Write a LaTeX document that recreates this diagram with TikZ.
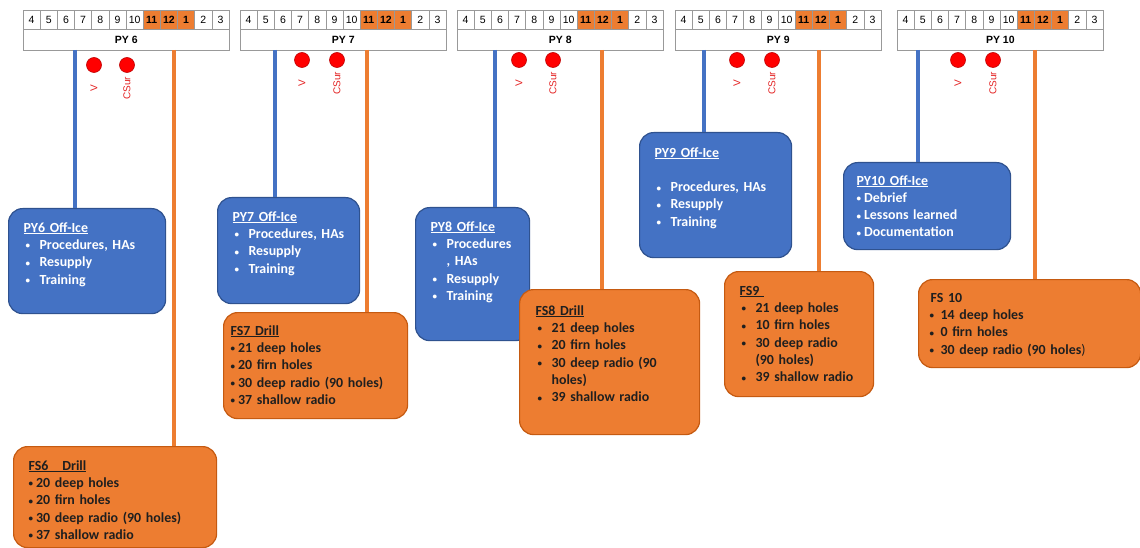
\documentclass[tikz,border=0pt]{standalone}
\usepackage{fontspec}
\setmainfont{Carlito}
\newfontfamily\arialfont{Liberation Sans}
\definecolor{pyblue}{HTML}{4472C4}
\definecolor{pyblueline}{HTML}{2F528F}
\definecolor{pyorange}{HTML}{ED7D31}
\definecolor{pyorangeline}{HTML}{C55A11}
\definecolor{dotred}{HTML}{FF0000}
\definecolor{labred}{HTML}{E32222}
\definecolor{boxtext}{HTML}{1F1F1F}
\newcommand{\sbul}{\raisebox{0.6pt}{\fontsize{9}{9}\selectfont\textbullet}}
\newcommand{\ibul}[2][16pt]{\mbox{\makebox[#1][l]{\hspace{2pt}\sbul}#2}}
\newcommand{\tbul}[1]{\mbox{\sbul\hspace{3pt}#1}}
\newcommand{\ihang}[1]{\mbox{\hspace{16pt}#1}}

\begin{document}
\begin{tikzpicture}[x=1pt,y=-1pt,
  offbox/.style={anchor=north west,rounded corners=14pt,fill=pyblue,draw=pyblueline,line width=1.2pt,text=white,align=left,inner ysep=0pt,font=\fontsize{13.9}{17.3}\selectfont\bfseries},
  fsbox/.style={offbox,fill=pyorange,draw=pyorangeline,text=boxtext},
  cell/.style={draw=gray!80,line width=0.6pt,minimum width=17.17pt,minimum height=19pt,inner sep=0pt,font=\arialfont\fontsize{10.5}{12}\selectfont},
  pyrow/.style={draw=gray!80,line width=0.6pt,anchor=north west,minimum width=206pt,minimum height=21pt,inner sep=0pt,font=\arialfont\fontsize{10.5}{12}\selectfont\bfseries},
  rdot/.style={circle,fill=dotred,draw=red!75!black,line width=0.6pt,minimum size=15pt,inner sep=0pt},
  rlab/.style={rotate=90,anchor=east,inner sep=0pt,text=labred,font=\arialfont\fontsize{10}{12}\selectfont},
  bluelink/.style={pyblue,line width=3.5pt},
  orangelink/.style={pyorange,line width=3.5pt}]
  \useasboundingbox (0,0) rectangle (1140,548);

  \node[offbox,text width=127pt,inner xsep=15pt,text height=23.5pt,text depth=81.5pt] (off6) at (8,208)
    {\underline{PY6 Off-Ice}\\\ibul{Procedures, HAs}\\\ibul{Resupply}\\\ibul{Training}};
  \node[offbox,text width=112pt,inner xsep=15pt,text height=23.5pt,text depth=82.5pt] (off7) at (217,197)
    {\underline{PY7 Off-Ice}\\\ibul{Procedures, HAs}\\\ibul{Resupply}\\\ibul{Training}};
  \node[offbox,text width=84pt,inner xsep=15pt,text height=23.5pt,text depth=109.5pt] (off8) at (415,207)
    {\underline{PY8 Off-Ice}\\\ibul{Procedures}\\\ihang{, HAs}\\\ibul{Resupply}\\\ibul{Training}};
  \node[offbox,text width=122pt,inner xsep=15pt,text height=24.5pt,text depth=100.5pt] (off9) at (639,132)
    {\underline{PY9 Off-Ice}\\[17.3pt]\ibul{Procedures, HAs}\\\ibul{Resupply}\\\ibul{Training}};
  \node[offbox,text width=141pt,inner xsep=13pt,text height=22.5pt,text depth=64.5pt] (off10) at (843,162)
    {\underline{PY10 Off-Ice}\\\tbul{Debrief}\\\tbul{Lessons learned}\\\tbul{Documentation}};

  \node[fsbox,text width=173pt,inner xsep=15pt,text height=23.5pt,text depth=77.5pt] (fs6) at (13,446)
    {\underline{FS6\ \ \ Drill}\\\tbul{20 deep holes}\\\tbul{20 firn holes}\\\tbul{30 deep radio (90 holes)}\\\tbul{37 shallow radio}};
  \node[fsbox,text width=170pt,inner xsep=7pt,text height=22.5pt,text depth=83.5pt] (fs7) at (223,312)
    {\underline{FS7 Drill}\\\tbul{21 deep holes}\\\tbul{20 firn holes}\\\tbul{30 deep radio (90 holes)}\\\tbul{37 shallow radio}};
  \node[fsbox,text width=148pt,inner xsep=16pt,text height=25.5pt,text depth=119.5pt] (fs8) at (519,289)
    {\underline{FS8 Drill}\\\ibul{21 deep holes}\\\ibul{20 firn holes}\\\ibul{30 deep radio (90}\\\ihang{holes)}\\\ibul{39 shallow radio}};
  \node[fsbox,text width=119pt,inner xsep=15pt,text height=23.5pt,text depth=101.5pt] (fs9) at (724,271)
    {\underline{FS9\ }\\\ibul{21 deep holes}\\\ibul{10 firn holes}\\\ibul{30 deep radio}\\\ihang{(90 holes)}\\\ibul{39 shallow radio}};
  \node[fsbox,text width=204pt,inner xsep=9pt,text height=22.5pt,text depth=65.5pt] (fs10) at (918,279)
    {\hspace*{3pt}FS 10\\\ibul[13pt]{14 deep holes}\\\ibul[13pt]{0 firn holes}\\\ibul[13pt]{30 deep radio (90 holes{\mdseries)}}};

  \foreach \hx/\py/\vx/\cx/\dy/\bx/\ox in {23/6/94/127/65/75/174, 240/7/302/337/60/275/367, 457/8/519/553/60/495/602, 675/9/737/772/60/704/819, 897/10/958/993/60/918/1035} {
    \foreach \m [count=\i from 0] in {4,5,6,7,8,9,10,11,12,1,2,3} {
      \ifnum\i>6 \ifnum\i<10 \def\cc{pyorange}\def\cf{\bfseries}\else\def\cc{white}\def\cf{}\fi\else\def\cc{white}\def\cf{}\fi
      \node[cell,fill=\cc] (m\py-\i) at ({\hx+8.585+17.17*\i},19.5) {\cf\m};
    }
    \node[pyrow] (hdr\py) at (\hx,29) {PY \py};
    \node[rdot] (v\py) at (\vx,\dy) {};
    \node[rdot] (cs\py) at (\cx,\dy) {};
    \node[rlab] (vl\py) at ([yshift=-12pt]v\py.south) {V};
    \node[rlab] (csl\py) at ([yshift=-4pt]cs\py.south) {CSur};
    \coordinate (b\py) at (\bx,50);
    \coordinate (o\py) at (\ox,50);
    \draw[bluelink] (b\py) -- (b\py |- off\py.north);
    \draw[orangelink] (o\py) -- (o\py |- fs\py.north);
  }
\end{tikzpicture}
\end{document}
